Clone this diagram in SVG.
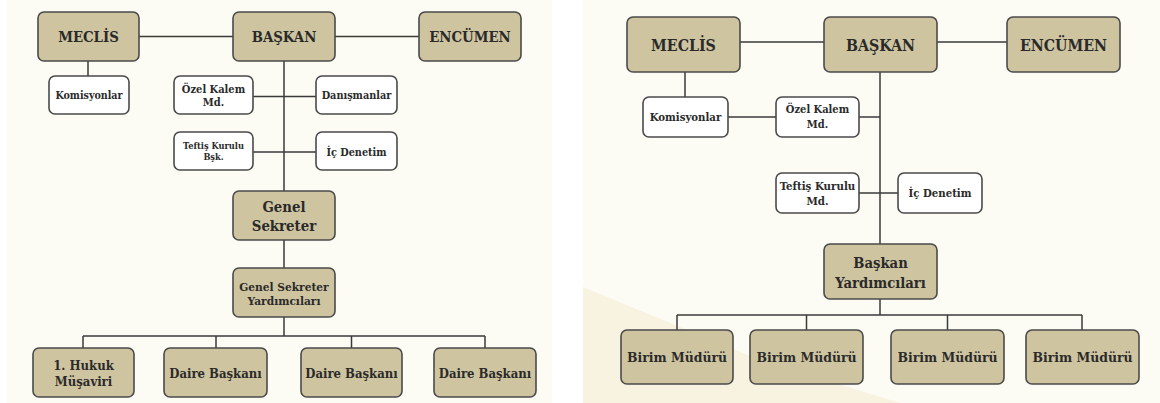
<svg xmlns="http://www.w3.org/2000/svg" width="1160" height="403" viewBox="0 0 1160 403">
<style>
.bg{fill:#fdfcf4}
.t{fill:#cfc4a0;stroke:#4a4a4a;stroke-width:1.6}
.w{fill:#ffffff;stroke:#4a4a4a;stroke-width:1.6}
.c{stroke:#3a3a3a;stroke-width:1.5;fill:none}
text{font-family:"DejaVu Serif Condensed","DejaVu Serif","Liberation Serif",serif;font-weight:bold;fill:#2a2a2a;text-anchor:middle}
</style>
<rect x="0" y="0" width="1160" height="403" fill="#ffffff"/>
<rect class="bg" x="7" y="0" width="545" height="403"/>
<rect class="bg" x="583" y="0" width="577" height="403"/>
<polygon points="583,287 760,360 900,403 583,403" fill="#f8f2e0"/>
<g id="connectors">
<path class="c" d="M139,36.5H233M335,36.5H419M88,61V76M284,61V191M253,96.5H316M253,152H316M284,240V268M284,317V336M83,336H485M83,336V348M216,336V348M351.5,336V348M485,336V348"/>
<path class="c" d="M740,42H824M937,42H1007M685,72V97M728,117H776M859,117H880M880,72V244M859,193H898M880,299V315M677,315H1082M677,315V330M806.5,315V330M947.5,315V330M1082,315V330"/>
</g>
<g id="l-meclis"><rect class="t" x="38" y="12" width="101" height="49" rx="6"/><text x="88.5" y="41.5" font-size="14.8">MECLİS</text></g>
<g id="l-baskan"><rect class="t" x="233" y="12" width="102" height="49" rx="6"/><text x="284" y="41.5" font-size="14.8">BAŞKAN</text></g>
<g id="l-encumen"><rect class="t" x="419" y="12" width="102" height="49" rx="6"/><text x="470" y="41.5" font-size="14.8">ENCÜMEN</text></g>
<g id="l-komisyonlar"><rect class="w" x="49" y="76" width="80" height="38" rx="6"/><text x="89" y="99" font-size="10.6">Komisyonlar</text></g>
<g id="l-ozel"><rect class="w" x="174" y="76" width="79" height="38" rx="6"/><text x="213.5" y="93.3" font-size="11">Özel Kalem</text><text x="213.5" y="106.3" font-size="11">Md.</text></g>
<g id="l-danisman"><rect class="w" x="316" y="76" width="81" height="38" rx="6"/><text x="356.5" y="99" font-size="10.8">Danışmanlar</text></g>
<g id="l-teftis"><rect class="w" x="174" y="132" width="79" height="38" rx="6"/><text x="213.5" y="149" font-size="9.2">Teftiş Kurulu</text><text x="213.5" y="159.5" font-size="9.2">Bşk.</text></g>
<g id="l-ic"><rect class="w" x="316" y="132" width="81" height="38" rx="6"/><text x="356.5" y="155.5" font-size="10.8">İç Denetim</text></g>
<g id="l-gs"><rect class="t" x="233" y="191" width="102" height="49" rx="6"/><text x="284" y="211.7" font-size="14.8">Genel</text><text x="284" y="230.5" font-size="14.8">Sekreter</text></g>
<g id="l-gsy"><rect class="t" x="233" y="268" width="102" height="49" rx="6"/><text x="284" y="290.7" font-size="11.8">Genel Sekreter</text><text x="284" y="304.5" font-size="11.8">Yardımcıları</text></g>
<g id="l-hukuk"><rect class="t" x="33" y="348" width="101" height="49" rx="6"/><text x="83.5" y="370" font-size="13">1. Hukuk</text><text x="83.5" y="385.5" font-size="13">Müşaviri</text></g>
<g id="l-daire1"><rect class="t" x="164" y="348" width="103" height="49" rx="6"/><text x="215.5" y="378.3" font-size="13">Daire Başkanı</text></g>
<g id="l-daire2"><rect class="t" x="301" y="348" width="101" height="49" rx="6"/><text x="351.5" y="378.3" font-size="13">Daire Başkanı</text></g>
<g id="l-daire3"><rect class="t" x="434" y="348" width="102" height="49" rx="6"/><text x="485" y="378.3" font-size="13">Daire Başkanı</text></g>
<g id="r-meclis"><rect class="t" x="627" y="17" width="113" height="55" rx="6"/><text x="683.5" y="50.7" font-size="15.8">MECLİS</text></g>
<g id="r-baskan"><rect class="t" x="824" y="17" width="113" height="55" rx="6"/><text x="880.5" y="50.7" font-size="15.8">BAŞKAN</text></g>
<g id="r-encumen"><rect class="t" x="1007" y="17" width="113" height="55" rx="6"/><text x="1063.5" y="50.7" font-size="15.8">ENCÜMEN</text></g>
<g id="r-komisyonlar"><rect class="w" x="643" y="97" width="85" height="40" rx="6"/><text x="685.5" y="120.7" font-size="11.3">Komisyonlar</text></g>
<g id="r-ozel"><rect class="w" x="776" y="97" width="83" height="40" rx="6"/><text x="817.5" y="113.3" font-size="11">Özel Kalem</text><text x="817.5" y="127.7" font-size="11">Md.</text></g>
<g id="r-teftis"><rect class="w" x="776" y="173" width="83" height="40" rx="6"/><text x="817.5" y="190" font-size="11.4">Teftiş Kurulu</text><text x="817.5" y="204.5" font-size="11.4">Md.</text></g>
<g id="r-ic"><rect class="w" x="898" y="173" width="84" height="40" rx="6"/><text x="940" y="196.7" font-size="11.3">İç Denetim</text></g>
<g id="r-by"><rect class="t" x="824" y="244" width="113" height="55" rx="6"/><text x="880.5" y="268.3" font-size="14.7">Başkan</text><text x="880.5" y="288.3" font-size="14.7">Yardımcıları</text></g>
<g id="r-birim1"><rect class="t" x="621" y="330" width="112" height="54" rx="6"/><text x="677" y="361.7" font-size="13.8">Birim Müdürü</text></g>
<g id="r-birim2"><rect class="t" x="750" y="330" width="113" height="54" rx="6"/><text x="806.5" y="361.7" font-size="13.8">Birim Müdürü</text></g>
<g id="r-birim3"><rect class="t" x="891" y="330" width="113" height="54" rx="6"/><text x="947.5" y="361.7" font-size="13.8">Birim Müdürü</text></g>
<g id="r-birim4"><rect class="t" x="1026" y="330" width="113" height="54" rx="6"/><text x="1082.5" y="361.7" font-size="13.8">Birim Müdürü</text></g>
</svg>
